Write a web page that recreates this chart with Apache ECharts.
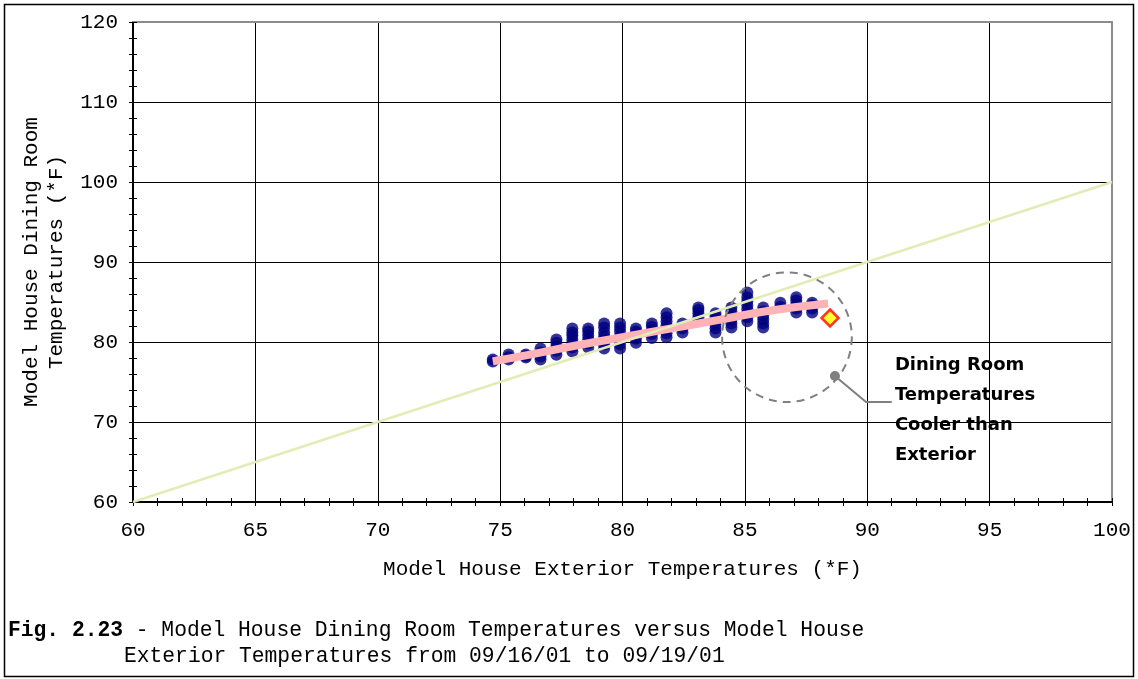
<!DOCTYPE html>
<html>
<head>
<meta charset="utf-8">
<script src="https://cdn.jsdelivr.net/npm/echarts@6/dist/echarts.min.js"></script>
<style>
html,body{margin:0;padding:0;background:#fff;}
#chart{width:1138px;height:679px;}
</style>
</head>
<body>
<div id="chart"></div>
<script>
// ---- data ----
const extTemps = [
  74.7, 74.7,
  75.35, 75.35, 75.35,
  76.05, 76.05, 76.05,
  76.65, 76.65, 76.65, 76.65,
  77.3, 77.3, 77.3, 77.3, 77.3,
  77.95, 77.95, 77.95, 77.95, 77.95, 77.95, 77.95,
  78.6, 78.6, 78.6, 78.6, 78.6, 78.6,
  79.25, 79.25, 79.25, 79.25, 79.25, 79.25, 79.25,
  79.9, 79.9, 79.9, 79.9, 79.9, 79.9, 79.9,
  80.55, 80.55, 80.55, 80.55, 80.55,
  81.2, 81.2, 81.2, 81.2, 81.2,
  81.8, 81.8, 81.8, 81.8, 81.8, 81.8, 81.8,
  82.45, 82.45, 82.45,
  83.1, 83.1, 83.1, 83.1, 83.1,
  83.8, 83.8, 83.8, 83.8, 83.8, 83.8,
  84.45, 84.45, 84.45, 84.45, 84.45, 84.45,
  85.1, 85.1, 85.1, 85.1, 85.1, 85.1, 85.1, 85.1,
  85.75, 85.75, 85.75, 85.75, 85.75, 85.75,
  86.45, 86.45,
  87.1, 87.1, 87.1, 87.1, 87.1,
  87.75, 87.75, 87.75, 87.75
];
const diningTemps = [
  77.55, 77.8,
  77.8, 78.1, 78.45,
  78.05, 78.25, 78.45,
  77.8, 78.2, 78.7, 79.2,
  78.4, 78.9, 79.4, 79.9, 80.3,
  78.8, 79.3, 79.8, 80.3, 80.8, 81.2, 81.7,
  79.3, 79.8, 80.3, 80.8, 81.3, 81.7,
  79.2, 79.7, 80.2, 80.7, 81.2, 81.8, 82.3,
  79.2, 79.7, 80.2, 80.7, 81.3, 81.8, 82.3,
  79.9, 80.4, 80.9, 81.3, 81.7,
  80.5, 81.0, 81.4, 81.9, 82.3,
  80.6, 81.1, 81.6, 82.1, 82.6, 83.1, 83.6,
  81.2, 81.7, 82.3,
  82.6, 83.1, 83.6, 84.0, 84.3,
  81.2, 81.7, 82.2, 82.7, 83.2, 83.6,
  81.8, 82.3, 82.8, 83.3, 83.8, 84.3,
  82.6, 83.1, 83.6, 84.1, 84.6, 85.1, 85.6, 86.2,
  81.8, 82.3, 82.8, 83.3, 83.8, 84.3,
  84.4, 84.9,
  83.7, 84.2, 84.7, 85.2, 85.6,
  83.7, 84.2, 84.6, 84.9
];
const trendX = [74.7, 76, 78, 80, 82, 84, 86, 88.4];
const trendY = [77.6, 78.3, 79.5, 80.6, 81.7, 82.8, 83.9, 84.8];
const equalX = [60, 100];
const equalY = [60, 100];
const outlierX = [88.48];
const outlierY = [83.0];
const xRange = [60, 100, 5];
const yRange = [60, 120, 10];
const xTitle = 'Model House Exterior Temperatures (*F)';
const yTitle = 'Model House Dining Room\nTemperatures (*F)';
const captionBold = 'Fig. 2.23';
const captionLine1 = ' - Model House Dining Room Temperatures versus Model House';
const captionLine2 = 'Exterior Temperatures from 09/16/01 to 09/19/01';
const noteLines = ['Dining Room', 'Temperatures', 'Cooler than', 'Exterior'];
// annotation anchors in data units
const circleCenter = [86.72, 80.6];
const circleRadiusX = 2.65;
const calloutDot = [88.68, 75.75];
const calloutBend = [89.95, 72.5];
const calloutEnd = [91.0, 72.5];
const noteAnchor = [91.13, 78.9];

const FONT = 'Liberation Mono';
const pts = extTemps.map((x, i) => [x, diningTemps[i]]);
const trend = trendX.map((x, i) => [x, trendY[i]]);
const equal = equalX.map((x, i) => [x, equalY[i]]);
const outlier = outlierX.map((x, i) => [x, outlierY[i]]);

const baseAxis = (r) => ({ type: 'value', min: r[0], max: r[1], interval: r[2] });

const option = {
  animation: false,
  backgroundColor: '#fff',
  grid: { left: 133, right: 26, top: 22, bottom: 177, show: false },
  xAxis: [
    Object.assign(baseAxis(xRange), {
      position: 'bottom',
      name: xTitle, nameLocation: 'middle', nameGap: 57,
      nameTextStyle: { fontFamily: FONT, fontSize: 21, color: '#000' },
      axisLine: { show: true, lineStyle: { color: '#000', width: 2 } },
      axisTick: { show: true, inside: false, length: 4, lineStyle: { color: '#000', width: 1 } },
      minorTick: { show: true, splitNumber: 5, length: 4, lineStyle: { color: '#000', width: 1 } },
      axisLabel: { fontFamily: FONT, fontSize: 21, color: '#000', margin: 18 },
      splitLine: { show: true, showMinLine: false, showMaxLine: false, lineStyle: { color: '#000', width: 1 } }
    }),
    Object.assign(baseAxis(xRange), {
      position: 'bottom',
      axisLine: { show: false },
      axisTick: { show: true, inside: true, length: 4, lineStyle: { color: '#000', width: 1 } },
      minorTick: { show: true, splitNumber: 5, length: 4, lineStyle: { color: '#000', width: 1 } },
      axisLabel: { show: false },
      splitLine: { show: false }
    }),
    Object.assign(baseAxis(xRange), {
      position: 'top',
      axisLine: { show: true, lineStyle: { color: '#8c8c8c', width: 2 } },
      axisTick: { show: false }, axisLabel: { show: false }, splitLine: { show: false }
    })
  ],
  yAxis: [
    Object.assign(baseAxis(yRange), {
      position: 'left',
      name: yTitle, nameLocation: 'middle', nameGap: 57, nameRotate: 90,
      nameTextStyle: { fontFamily: FONT, fontSize: 21, color: '#000', lineHeight: 25, align: 'center' },
      axisLine: { show: true, lineStyle: { color: '#000', width: 2 } },
      axisTick: { show: true, inside: false, length: 4, lineStyle: { color: '#000', width: 1 } },
      minorTick: { show: true, splitNumber: 5, length: 4, lineStyle: { color: '#000', width: 1 } },
      axisLabel: { fontFamily: FONT, fontSize: 21, color: '#000', margin: 15 },
      splitLine: { show: true, showMinLine: false, showMaxLine: false, lineStyle: { color: '#000', width: 1 } }
    }),
    Object.assign(baseAxis(yRange), {
      position: 'left',
      axisLine: { show: false },
      axisTick: { show: true, inside: true, length: 4, lineStyle: { color: '#000', width: 1 } },
      minorTick: { show: true, splitNumber: 5, length: 4, lineStyle: { color: '#000', width: 1 } },
      axisLabel: { show: false },
      splitLine: { show: false }
    }),
    Object.assign(baseAxis(yRange), {
      position: 'right',
      axisLine: { show: true, lineStyle: { color: '#8c8c8c', width: 2 } },
      axisTick: { show: false }, axisLabel: { show: false }, splitLine: { show: false }
    })
  ],
  series: [
    {
      type: 'scatter', data: pts, symbol: 'circle', symbolSize: 12,
      itemStyle: { color: '#000080' }, z: 3
    },
    {
      type: 'line', data: trend, smooth: true, symbol: 'none',
      lineStyle: { color: '#ffb3b6', width: 8, cap: 'butt' }, z: 4
    },
    {
      type: 'line', data: equal, symbol: 'none',
      lineStyle: { color: '#e2edb6', width: 2.5 }, z: 5
    },
    {
      type: 'scatter', data: outlier, symbol: 'diamond', symbolSize: [17, 17],
      itemStyle: { color: '#ffff00', borderColor: '#ff0000', borderWidth: 2.5 }, z: 6
    }
  ]
};

const chart = echarts.init(document.getElementById('chart'));
chart.setOption(option);

const px = (p) => chart.convertToPixel({ xAxisIndex: 0, yAxisIndex: 0 }, p);
const c = px(circleCenter);
const rEdge = px([circleCenter[0] + circleRadiusX, circleCenter[1]]);
const r = rEdge[0] - c[0];
const d = px(calloutDot), b = px(calloutBend), e = px(calloutEnd), n = px(noteAnchor);

chart.setOption({
  graphic: [
    {
      id: 'frame', type: 'rect', silent: true, z: 100,
      shape: { x: 4.5, y: 4.5, width: 1129, height: 672 },
      style: { fill: 'none', stroke: '#000', lineWidth: 1.5 }
    },
    {
      id: 'cap1', type: 'text', left: 8, top: 620, z: 100,
      style: {
        text: '{b|' + captionBold + '}{n|' + captionLine1 + '}',
        rich: {
          b: { fontFamily: FONT, fontSize: 21.3, fontWeight: 'bold', fill: '#000' },
          n: { fontFamily: FONT, fontSize: 21.3, fontWeight: 'normal', fill: '#000' }
        }
      }
    },
    {
      id: 'cap2', type: 'text', left: 124, top: 646, z: 100,
      style: { text: captionLine2, fontFamily: FONT, fontSize: 21.3, fontWeight: 'normal', fill: '#000' }
    },
    {
      id: 'ring', type: 'circle', z: 50, silent: true,
      shape: { cx: c[0], cy: c[1], r: r },
      style: { fill: 'none', stroke: '#808080', lineWidth: 2, lineDash: [8, 6] }
    },
    {
      id: 'leader', type: 'polyline', z: 50, silent: true,
      shape: { points: [d, b, e] },
      style: { fill: 'none', stroke: '#808080', lineWidth: 2 }
    },
    {
      id: 'dot', type: 'circle', z: 51, silent: true,
      shape: { cx: d[0], cy: d[1], r: 5 },
      style: { fill: '#808080' }
    },
    {
      id: 'note', type: 'text', z: 51, silent: true,
      x: n[0], y: n[1],
      style: {
        text: noteLines.join('\n'),
        fontFamily: 'DejaVu Sans', fontWeight: 'bold', fontSize: 18,
        lineHeight: 30, fill: '#000', verticalAlign: 'top', align: 'left'
      }
    }
  ]
});
</script>
</body>
</html>
